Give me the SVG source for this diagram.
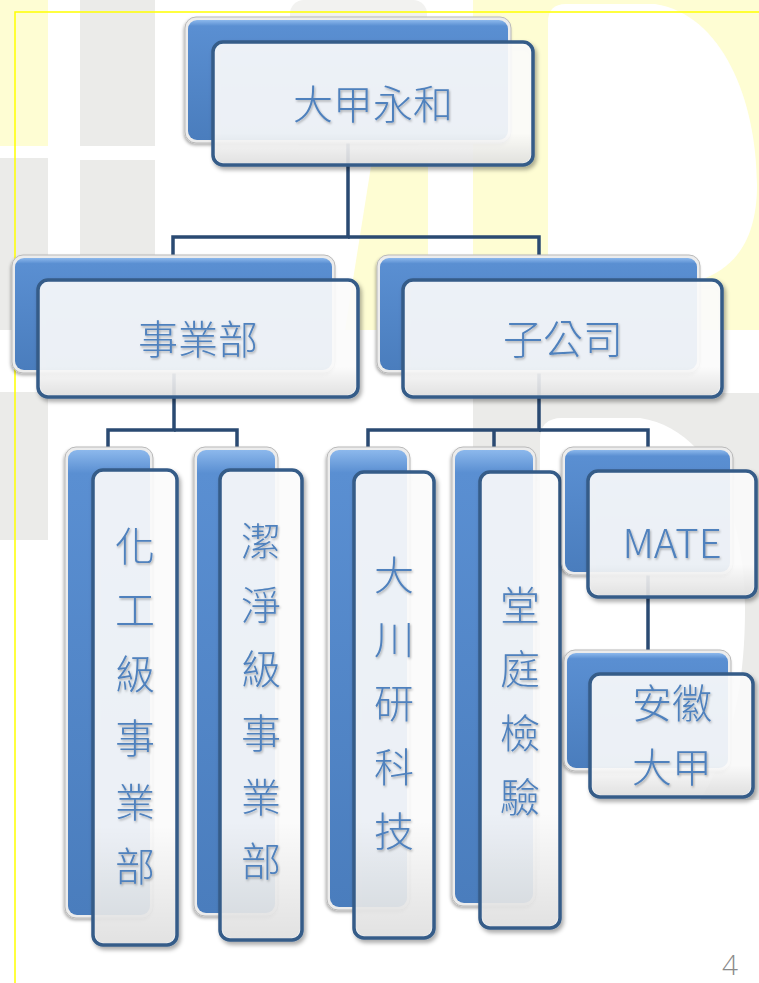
<svg xmlns="http://www.w3.org/2000/svg" width="759" height="983" viewBox="0 0 759 983">
<defs>
<style>
.bgY{fill:#fefdd3}
.bgG{fill:#ebebe9}
.rearFrame{fill:#ececec;stroke:#b9b9b9;stroke-width:1}
.rear{fill:url(#rearG)}
.front{fill:#ffffff;fill-opacity:0.88;stroke:#345b88;stroke-width:3.5}
.frontShade{fill:url(#shadeG)}
.conn{fill:none;stroke:#2a4a72;stroke-width:3.5;stroke-linejoin:miter}
.lbl{font-family:"Noto Sans CJK TC","Noto Sans",sans-serif;font-weight:300;font-size:40px;fill:#4f81bd;text-anchor:middle}
.pg{font-family:"Open Sans","Liberation Sans",sans-serif;font-weight:300;font-size:28px;fill:#8a8a8a;text-anchor:middle}
</style>
<linearGradient id="rearG" x1="0" y1="0" x2="0" y2="1">
<stop offset="0" stop-color="#8cb8ec"/>
<stop offset="0.05" stop-color="#5a8fd2"/>
<stop offset="1" stop-color="#4a7dbd"/>
</linearGradient>
<linearGradient id="shadeG" x1="0" y1="0" x2="0" y2="1">
<stop offset="0.75" stop-color="#000" stop-opacity="0"/>
<stop offset="1" stop-color="#000" stop-opacity="0.10"/>
</linearGradient>
<filter id="sh" x="-20%" y="-20%" width="140%" height="140%">
<feDropShadow dx="2" dy="3" stdDeviation="2" flood-color="#000" flood-opacity="0.35"/>
</filter>
<filter id="shr" x="-20%" y="-20%" width="140%" height="140%">
<feDropShadow dx="-1" dy="2" stdDeviation="1.5" flood-color="#000" flood-opacity="0.3"/>
</filter>
<filter id="ts" x="-20%" y="-20%" width="140%" height="140%">
<feDropShadow dx="1" dy="1.5" stdDeviation="0.8" flood-color="#000" flood-opacity="0.3"/>
</filter>
</defs>

<g id="background">
<rect x="0" y="0" width="759" height="983" fill="#ffffff"/>
<rect class="bgY" x="0" y="0" width="48" height="146"/>
<rect class="bgG" x="0" y="158" width="48" height="172"/>
<rect class="bgG" x="80" y="0" width="75" height="146"/>
<rect class="bgG" x="80" y="160" width="75" height="170"/>
<rect class="bgG" x="0" y="392" width="48" height="148"/>
<rect fill="#f2f2f0" x="290" y="0" width="137" height="146" rx="14"/>
<polygon class="bgY" points="372,160 428,160 428,330 345,330"/>
<rect class="bgY" x="473" y="0" width="286" height="330"/>
<path fill="#ffffff" d="M548 22 Q548 4 566 4 H655 C722 14 757 100 757 185 C757 240 735 268 700 280 L700 330 H548 Z"/>
<rect class="bgG" x="473" y="393" width="286" height="477"/>
<path fill="#ffffff" d="M540 440 Q540 418 562 418 H640 C715 430 745 520 745 610 C745 700 725 760 700 800 L759 800 V870 H540 Z"/>
<path d="M15 983 V12 H759" fill="none" stroke="#ffff00" stroke-width="1.5"/>
</g>

<g id="connectors">
<path class="conn" d="M348 100 V237 H173 V262"/>
<path class="conn" d="M348 237 H539 V262"/>
<path class="conn" d="M174 340 V430 H108 V454"/>
<path class="conn" d="M174 430 H237 V454"/>
<path class="conn" d="M539 340 V430 H368 V454"/>
<path class="conn" d="M494 430 V454"/>
<path class="conn" d="M539 430 H648 V454"/>
<path class="conn" d="M648 530 V656"/>
</g>

<g id="n-top">
<rect class="rearFrame" x="185" y="17" width="326" height="126" rx="11" filter="url(#shr)"/>
<rect class="rear" x="188" y="20" width="320" height="120" rx="9"/>
<rect class="front" x="213" y="42" width="320" height="123" rx="10" filter="url(#sh)"/>
<rect class="frontShade" x="215" y="44" width="316" height="119" rx="9"/>
<text class="lbl" x="373" y="119" font-size="41" filter="url(#ts)">大甲永和</text>
</g>

<g id="n-biz">
<rect class="rearFrame" x="12" y="255" width="323" height="118" rx="11" filter="url(#shr)"/>
<rect class="rear" x="15" y="258" width="317" height="112" rx="9"/>
<rect class="front" x="38" y="280" width="320" height="117" rx="10" filter="url(#sh)"/>
<rect class="frontShade" x="40" y="282" width="316" height="113" rx="9"/>
<text class="lbl" x="198" y="354" font-size="41" filter="url(#ts)">事業部</text>
</g>

<g id="n-sub">
<rect class="rearFrame" x="377" y="255" width="323" height="118" rx="11" filter="url(#shr)"/>
<rect class="rear" x="380" y="258" width="317" height="112" rx="9"/>
<rect class="front" x="403" y="280" width="319" height="117" rx="10" filter="url(#sh)"/>
<rect class="frontShade" x="405" y="282" width="315" height="113" rx="9"/>
<text class="lbl" x="563" y="354" font-size="41" filter="url(#ts)">子公司</text>
</g>

<g id="n-chem">
<rect class="rearFrame" x="65" y="447" width="88" height="471" rx="11" filter="url(#shr)"/>
<rect class="rear" x="68" y="450" width="82" height="465" rx="9"/>
<rect class="front" x="93" y="470" width="84" height="475" rx="10" filter="url(#sh)"/>
<rect class="frontShade" x="95" y="472" width="80" height="471" rx="9"/>
<text class="lbl" filter="url(#ts)"><tspan x="135" y="561">化</tspan><tspan x="135" y="625">工</tspan><tspan x="135" y="689">級</tspan><tspan x="135" y="753">事</tspan><tspan x="135" y="817">業</tspan><tspan x="135" y="881">部</tspan></text>
</g>

<g id="n-clean">
<rect class="rearFrame" x="194" y="447" width="84" height="469" rx="11" filter="url(#shr)"/>
<rect class="rear" x="197" y="450" width="78" height="463" rx="9"/>
<rect class="front" x="220" y="470" width="82" height="470" rx="10" filter="url(#sh)"/>
<rect class="frontShade" x="222" y="472" width="78" height="466" rx="9"/>
<text class="lbl" filter="url(#ts)"><tspan x="261" y="556">潔</tspan><tspan x="261" y="620">淨</tspan><tspan x="261" y="684">級</tspan><tspan x="261" y="748">事</tspan><tspan x="261" y="812">業</tspan><tspan x="261" y="876">部</tspan></text>
</g>

<g id="n-dachuan">
<rect class="rearFrame" x="327" y="447" width="83" height="463" rx="11" filter="url(#shr)"/>
<rect class="rear" x="330" y="450" width="77" height="457" rx="9"/>
<rect class="front" x="354" y="472" width="80" height="466" rx="10" filter="url(#sh)"/>
<rect class="frontShade" x="356" y="474" width="76" height="462" rx="9"/>
<text class="lbl" filter="url(#ts)"><tspan x="394" y="590">大</tspan><tspan x="394" y="654">川</tspan><tspan x="394" y="718">研</tspan><tspan x="394" y="782">科</tspan><tspan x="394" y="846">技</tspan></text>
</g>

<g id="n-tangting">
<rect class="rearFrame" x="452" y="447" width="84" height="459" rx="11" filter="url(#shr)"/>
<rect class="rear" x="455" y="450" width="78" height="453" rx="9"/>
<rect class="front" x="480" y="472" width="80" height="456" rx="10" filter="url(#sh)"/>
<rect class="frontShade" x="482" y="474" width="76" height="452" rx="9"/>
<text class="lbl" filter="url(#ts)"><tspan x="520" y="620">堂</tspan><tspan x="520" y="684">庭</tspan><tspan x="520" y="748">檢</tspan><tspan x="520" y="812">驗</tspan></text>
</g>

<g id="n-mate">
<rect class="rearFrame" x="562" y="447" width="171" height="128" rx="11" filter="url(#shr)"/>
<rect class="rear" x="565" y="450" width="165" height="122" rx="9"/>
<rect class="front" x="588" y="471" width="168" height="126" rx="10" filter="url(#sh)"/>
<rect class="frontShade" x="590" y="473" width="164" height="122" rx="9"/>
<text class="lbl" x="672" y="558" font-size="44" filter="url(#ts)">MATE</text>
</g>

<g id="n-anhui">
<rect class="rearFrame" x="564" y="650" width="167" height="121" rx="11" filter="url(#shr)"/>
<rect class="rear" x="567" y="653" width="161" height="115" rx="9"/>
<rect class="front" x="590" y="674" width="163" height="123" rx="10" filter="url(#sh)"/>
<rect class="frontShade" x="592" y="676" width="159" height="119" rx="9"/>
<text class="lbl" filter="url(#ts)"><tspan x="672" y="718">安徽</tspan><tspan x="672" y="782">大甲</tspan></text>
</g>

<text class="pg" x="730" y="975">4</text>
</svg>
